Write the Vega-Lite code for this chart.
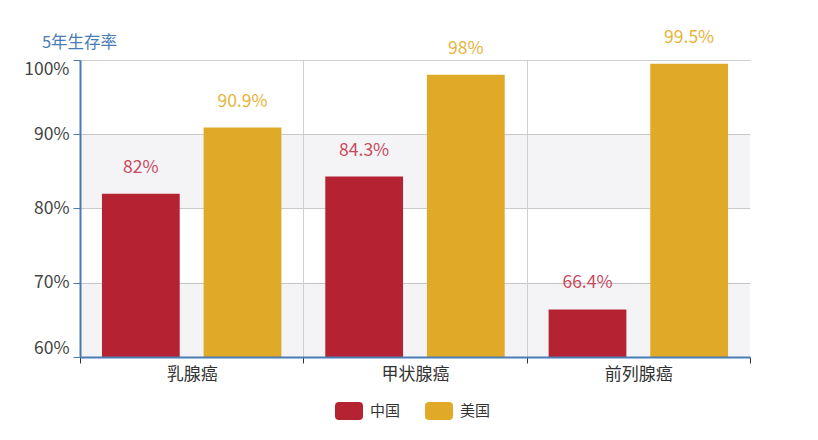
{
  "$schema": "https://vega.github.io/schema/vega-lite/v6.json",
  "width": 670,
  "height": 297,
  "autosize": "none",
  "padding": {"left": 80, "top": 60, "right": 68, "bottom": 83},
  "background": "white",
  "config": {
    "font": "Noto Sans CJK SC",
    "view": {"stroke": null}
  },
  "datasets": {
    "bars": [
      {"cancer": "乳腺癌", "country": "中国", "rate": 0.82},
      {"cancer": "乳腺癌", "country": "美国", "rate": 0.909},
      {"cancer": "甲状腺癌", "country": "中国", "rate": 0.843},
      {"cancer": "甲状腺癌", "country": "美国", "rate": 0.98},
      {"cancer": "前列腺癌", "country": "中国", "rate": 0.664},
      {"cancer": "前列腺癌", "country": "美国", "rate": 0.995}
    ],
    "bands": [
      {"lo": 0.6, "hi": 0.7},
      {"lo": 0.8, "hi": 0.9}
    ]
  },
  "encoding": {
    "y": {
      "type": "quantitative",
      "scale": {"domain": [0.6, 1.0], "nice": false, "zero": false},
      "axis": {
        "format": ".0%", "values": [0.6, 0.7, 0.8, 0.9, 1.0],
        "labelFontSize": 17.5, "labelColor": "#444", "labelPadding": 4,
        "labelFlush": true, "labelFlushOffset": 0,
        "domainColor": "#4a7db5", "domainWidth": 2,
        "tickColor": "#4a7db5", "tickSize": 7,
        "grid": true, "gridColor": "#cfcfcf",
        "title": "5年生存率", "titleAngle": 0, "titleAlign": "center",
        "titleBaseline": "middle", "titleX": -1, "titleY": -18,
        "titleFontSize": 16.5, "titleFontWeight": "normal", "titleColor": "#4a7db5"
      }
    }
  },
  "layer": [
    {
      "data": {"name": "bands"},
      "mark": {"type": "rect", "color": "#000030", "opacity": 0.045},
      "encoding": {
        "y": {"field": "lo", "type": "quantitative"},
        "y2": {"field": "hi"}
      }
    },
    {
      "data": {"name": "bars"},
      "mark": {"type": "bar", "clip": true},
      "encoding": {
        "x": {
          "field": "cancer", "type": "nominal", "sort": null,
          "scale": {"paddingInner": 0, "paddingOuter": 0},
          "axis": {
            "title": null, "labelAngle": 0, "labelFontSize": 17, "labelColor": "#333",
            "labelPadding": 3, "zindex": 1,
            "domainColor": "#4a7db5", "domainWidth": 2,
            "tickColor": "#333", "tickSize": 6, "tickBand": "extent",
            "grid": true, "gridColor": "#cfcfcf", "gridWidth": 1,
            "gridOpacity": {"condition": {"test": "datum.value === '前列腺癌' || datum.extra", "value": 0}, "value": 1}
          }
        },
        "xOffset": {
          "field": "country", "type": "nominal",
          "scale": {"paddingInner": 0.235, "paddingOuter": 0.216}
        },
        "y": {"field": "rate", "type": "quantitative"},
        "color": {
          "field": "country", "type": "nominal",
          "scale": {"domain": ["中国", "美国"], "range": ["#b52232", "#e0aa28"]},
          "legend": {
            "title": null, "orient": "none", "direction": "horizontal",
            "legendX": 255, "legendY": 337,
            "symbolType": "M-0.71,-0.64 L0.71,-0.64 Q1,-0.64 1,-0.35 L1,0.35 Q1,0.64 0.71,0.64 L-0.71,0.64 Q-1,0.64 -1,0.35 L-1,-0.35 Q-1,-0.64 -0.71,-0.64 Z",
            "symbolSize": 784, "symbolStrokeWidth": 0, "symbolOpacity": 1,
            "labelFontSize": 15, "labelColor": "#333", "labelOffset": 7,
            "columnPadding": 24
          }
        }
      }
    },
    {
      "data": {"name": "bars"},
      "mark": {"type": "text", "fontSize": 17.5, "baseline": "middle", "dy": -26},
      "encoding": {
        "x": {"field": "cancer", "type": "nominal", "sort": null},
        "xOffset": {"field": "country", "type": "nominal"},
        "y": {"field": "rate", "type": "quantitative"},
        "text": {"field": "rate", "type": "quantitative", "format": ".1~%"},
        "color": {
          "condition": {"test": "datum.country === '中国'", "value": "#c94a5e"},
          "value": "#e6b43a"
        }
      }
    }
  ]
}
